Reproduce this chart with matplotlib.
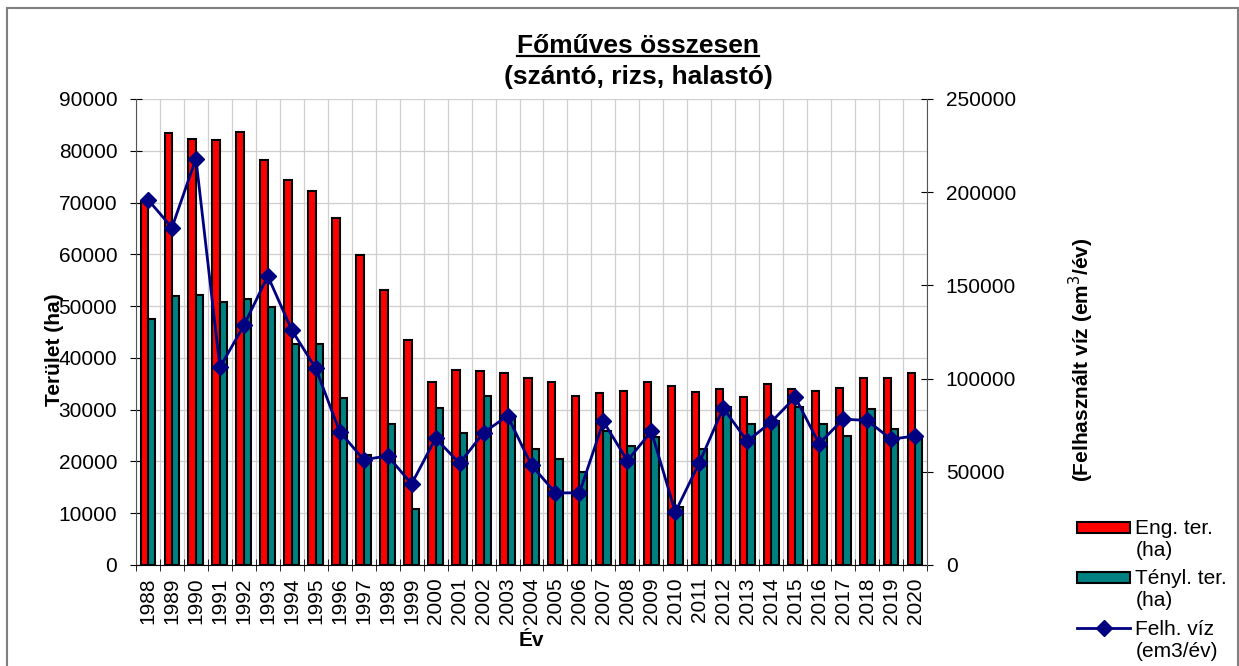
import numpy as np
import matplotlib
matplotlib.use("Agg")
import matplotlib.pyplot as plt
import matplotlib.ticker as ticker
from matplotlib.patches import Rectangle
from matplotlib.lines import Line2D
from matplotlib.container import BarContainer
from matplotlib.legend_handler import HandlerPatch, HandlerLine2D, update_from_first_child

plt.rcParams["font.family"] = ["Liberation Sans", "DejaVu Sans"]

# --- adatok ---
years = [str(y) for y in range(1988, 2021)]
eng_ter = [70200, 83500, 82200, 82000, 83600, 78200, 74300, 72300, 67000, 59800,
           53200, 43500, 35400, 37600, 37400, 37000, 36200, 35300, 32600, 33300,
           33700, 35400, 34600, 33400, 33900, 32400, 34900, 33900, 33700, 34100,
           36200, 36200, 37000]
teny_ter = [47500, 52000, 52100, 50700, 51400, 49800, 42700, 42700, 32200, 21200,
            27200, 10900, 30300, 25500, 32600, 28800, 22500, 20500, 18000, 25800,
            23000, 24700, 11200, 22400, 30500, 27200, 27900, 30600, 27200, 25000,
            30100, 26300, 24500]
felh_viz = [196000, 181000, 218000, 106000, 128500, 155000, 126000, 105500, 71500, 56500,
            58500, 43500, 68000, 54500, 71000, 80000, 53500, 38700, 38700, 77000,
            56000, 71700, 28400, 54800, 84200, 66400, 76700, 90000, 65100, 78200,
            77600, 67500, 69200]

FS = 15
W, H = 1239, 666

fig = plt.figure(figsize=(W / 100, H / 100), dpi=100)
ax = fig.add_axes([136 / W, 1 - 565 / H, (927 - 136) / W, (565 - 99) / H])
ax2 = ax.twinx()

x = np.arange(len(years))
bw = 0.31
ax.bar(x - bw / 2, eng_ter, bw, color="#ff0000", edgecolor="black", linewidth=1.5,
       label="Eng. ter.\n(ha)", zorder=3)
ax.bar(x + bw / 2, teny_ter, bw, color="#008080", edgecolor="black", linewidth=1.5,
       label="Tényl. ter.\n(ha)", zorder=3)
ax2.plot(x, felh_viz, color="#000080", linewidth=2, marker="D", markersize=8,
         label="Felh. víz\n(em3/év)", zorder=4)

# tengelyek
ax.set_xlim(-0.5, len(years) - 0.5)
ax.set_ylim(0, 90000)
ax2.set_ylim(0, 250000)
ax.yaxis.set_major_locator(ticker.MultipleLocator(10000))
ax2.yaxis.set_major_locator(ticker.MultipleLocator(50000))

ax.set_xticks(x)
ax.set_xticklabels(years, rotation=90)
ax.set_xticks(np.arange(-0.5, len(years), 1.0), minor=True)
ax.tick_params(axis="x", which="major", length=0, pad=9, labelsize=FS)
ax.tick_params(axis="x", which="minor", direction="inout", length=9)
ax.tick_params(axis="y", direction="inout", length=9, pad=9, labelsize=FS)
ax2.tick_params(axis="y", direction="inout", length=9, pad=9, labelsize=FS)

ax.grid(axis="y", which="major", color="#cfcfcf", linewidth=0.9, zorder=0)
ax.grid(axis="x", which="minor", color="#cfcfcf", linewidth=0.9, zorder=0)
ax.set_axisbelow(True)

for s in ["top", "right"]:
    ax.spines[s].set_visible(False)
for s in ["top", "left", "bottom"]:
    ax2.spines[s].set_visible(False)
ax.spines["left"].set_color("#555555")
ax2.spines["right"].set_color("#555555")
ax.spines["bottom"].set_color("black")

ax.set_xlabel("Év", fontsize=FS, fontweight="bold", labelpad=4.5)
ax.set_ylabel("Terület (ha)", fontsize=FS, fontweight="bold", va="center")
ax.yaxis.set_label_coords((54 - 136) / 791, (565 - 350) / 466)
ax2.set_ylabel("(Felhasznált víz (em$^{3}$/év)", fontsize=FS, fontweight="bold",
               va="center", rotation=90)
ax2.yaxis.set_label_coords((1081 - 136) / 791, (565 - 360) / 466)

# cím
t1 = fig.text(638 / W, 1 - 46 / H, "Főműves összesen", ha="center", va="center",
              fontsize=19, fontweight="bold")
fig.text(638 / W, 1 - 77 / H, "(szántó, rizs, halastó)", ha="center", va="center",
         fontsize=19, fontweight="bold")


# jelmagyarázat - a jel az első sorhoz igazítva
def bar_handle(legend, orig_handle, xdescent, ydescent, width, height, fontsize):
    h = 0.53 * fontsize
    return Rectangle((-xdescent, -ydescent + (height - h) / 2 + 0.6 * fontsize), width, h)


class LineHandle(HandlerLine2D):
    def create_artists(self, legend, orig_handle, xdescent, ydescent, width, height,
                       fontsize, trans):
        return super().create_artists(legend, orig_handle, xdescent,
                                       ydescent - 1.2 * fontsize, width, height,
                                       fontsize, trans)


h1, l1 = ax.get_legend_handles_labels()
h2, l2 = ax2.get_legend_handles_labels()
leg = fig.legend(h1 + h2, l1 + l2, loc="upper left",
                 bbox_to_anchor=(1077 / W, 1 - 519 / H), frameon=False,
                 fontsize=FS, borderpad=0, borderaxespad=0, labelspacing=0.45,
                 handlelength=2.55, handletextpad=0.25, numpoints=1,
                 handler_map={BarContainer: HandlerPatch(patch_func=bar_handle,
                                                         update_func=update_from_first_child),
                              Line2D: LineHandle()})

# keret
fig.patches.append(Rectangle((7 / W, -0.05), (1238 - 7) / W, (H - 8) / H + 0.05,
                             transform=fig.transFigure, fill=False,
                             edgecolor="#808080", linewidth=1.5))

# aláhúzás a cím első sorához
fig.canvas.draw()
bb = t1.get_window_extent()
fig.add_artist(Line2D([bb.x0, bb.x1], [bb.y0 + 2, bb.y0 + 2], transform=None,
                      color="black", linewidth=1.6))

fig.savefig("out.png", dpi=100)
